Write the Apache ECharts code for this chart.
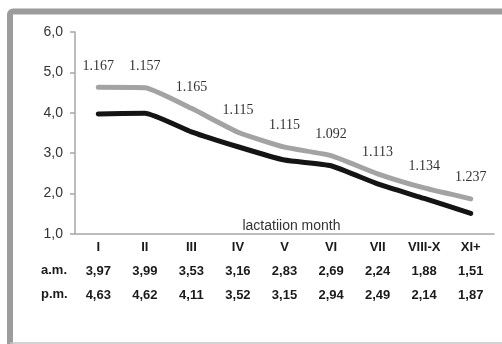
<!DOCTYPE html>
<html>
<head>
<meta charset="utf-8">
<script src="https://cdn.jsdelivr.net/npm/echarts@6/dist/echarts.min.js"></script>
<style>
  html, body { margin: 0; padding: 0; background: #fff; }
  #chart { width: 502px; height: 344px; }
</style>
</head>
<body>
<div id="chart"></div>
<script>
// Lactation months
const categories = ['I', 'II', 'III', 'IV', 'V', 'VI', 'VII', 'VIII-X', 'XI+'];
// Morning milking yield
const amValues = [3.97, 3.99, 3.53, 3.16, 2.83, 2.69, 2.24, 1.88, 1.51];
// Evening milking yield
const pmValues = [4.63, 4.62, 4.11, 3.52, 3.15, 2.94, 2.49, 2.14, 1.87];
// Ratio labels shown above the evening line
const ratioLabels = ['1.167', '1.157', '1.165', '1.115', '1.115', '1.092', '1.113', '1.134', '1.237'];
// Value axis range
const yMin = 1, yMax = 6, yStep = 1;

const comma = (v, d) => v.toFixed(d).replace('.', ',');
const sans = 'Liberation Sans, Arial, sans-serif';

const chart = echarts.init(document.getElementById('chart'), null, { renderer: 'canvas' });

chart.setOption({
  animation: false,
  backgroundColor: '#ffffff',
  grid: { left: 75, right: 8, top: 32, bottom: 110 },
  xAxis: {
    type: 'category',
    data: categories,
    boundaryGap: true,
    name: 'lactatiion month',
    nameLocation: 'middle',
    nameGap: -15,
    nameMoveOverlap: false,
    nameTextStyle: { fontFamily: sans, fontSize: 14, color: '#333', padding: [0, 0, 0, 14] },
    axisLine: { lineStyle: { color: '#a6a6a6', width: 1.5 } },
    axisTick: { show: false },
    axisLabel: {
      margin: 1,
      interval: 0,
      formatter: (value, idx) =>
        '{c|' + value + '}\n{v|' + comma(amValues[idx], 2) + '}\n{v|' + comma(pmValues[idx], 2) + '}',
      rich: {
        c: { fontFamily: sans, fontWeight: 'bold', fontSize: 13, color: '#1a1a1a', lineHeight: 24 },
        v: { fontFamily: sans, fontWeight: 'bold', fontSize: 13, color: '#1a1a1a', lineHeight: 24 }
      }
    }
  },
  yAxis: {
    type: 'value',
    min: yMin,
    max: yMax,
    interval: yStep,
    axisLine: { show: true, lineStyle: { color: '#a6a6a6', width: 1.5 } },
    axisTick: { show: true, length: 5, lineStyle: { color: '#a6a6a6', width: 1.5 } },
    splitLine: { show: false },
    axisLabel: {
      margin: 12,
      fontFamily: sans,
      fontSize: 14,
      color: '#333',
      formatter: v => comma(v, 1)
    }
  },
  series: [
    {
      name: 'p.m.',
      type: 'line',
      data: pmValues,
      smooth: 0.15,
      symbol: 'circle',
      symbolSize: 1,
      showSymbol: true,
      itemStyle: { color: 'rgba(0,0,0,0)' },
      lineStyle: { color: '#a3a3a3', width: 5, cap: 'round', join: 'round' },
      label: {
        show: true,
        position: 'top',
        distance: 14,
        fontFamily: 'Liberation Serif, Times New Roman, serif',
        fontSize: 14,
        color: '#333',
        formatter: p => ratioLabels[p.dataIndex]
      },
      z: 3
    },
    {
      name: 'a.m.',
      type: 'line',
      data: amValues,
      smooth: 0.15,
      symbol: 'none',
      lineStyle: { color: '#141414', width: 5, cap: 'round', join: 'round' },
      z: 2
    }
  ],
  graphic: [
    {
      type: 'rect',
      shape: { x: 10, y: 11.5, width: 520, height: 345, r: 3 },
      style: { fill: 'none', stroke: '#9c9c9c', lineWidth: 6 },
      silent: true
    },
    {
      type: 'line',
      shape: { x1: 10, y1: 343, x2: 502, y2: 343 },
      style: { stroke: '#c4c4c4', lineWidth: 1.5 },
      silent: true
    },
    {
      type: 'text',
      left: 41,
      top: 264,
      style: { text: 'a.m.', fontFamily: sans, fontWeight: 'bold', fontSize: 13, fill: '#1a1a1a' }
    },
    {
      type: 'text',
      left: 41,
      top: 288,
      style: { text: 'p.m.', fontFamily: sans, fontWeight: 'bold', fontSize: 13, fill: '#1a1a1a' }
    }
  ]
});
</script>
</body>
</html>
